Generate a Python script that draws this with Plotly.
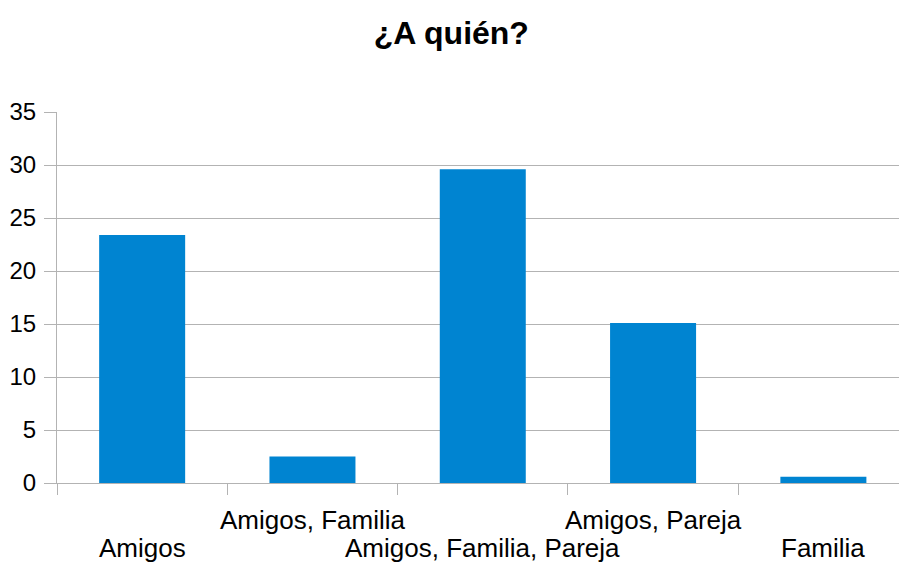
import plotly.graph_objects as go

# Survey answers: who the respondents share with
categories = ["Amigos", "Amigos, Familia", "Amigos, Familia, Pareja", "Amigos, Pareja", "Familia"]
values = [23.4, 2.5, 29.6, 15.1, 0.6]
y_ticks = [0, 5, 10, 15, 20, 25, 30, 35]

BAR_COLOR = "#0084d1"
GRID_COLOR = "#b3b3b3"
FONT = "Liberation Sans, Arial, sans-serif"

fig = go.Figure(
    go.Bar(
        x=categories,
        y=values,
        marker=dict(color=BAR_COLOR, line=dict(width=0)),
        width=0.505,
        hoverinfo="x+y",
    )
)

# Category labels alternate between two rows under the axis
annotations = []
for i, cat in enumerate(categories):
    upper = i % 2 == 1
    annotations.append(
        dict(
            x=cat,
            xref="x",
            y=-0.0997 if upper else -0.2205,
            yref="paper",
            yanchor="middle" if upper else "bottom",
            xanchor="center",
            text=cat,
            showarrow=False,
            font=dict(family=FONT, size=26, color="#000000"),
        )
    )

fig.update_layout(
    width=899,
    height=566,
    margin=dict(l=57, r=0, t=112, b=83),
    paper_bgcolor="white",
    plot_bgcolor="white",
    showlegend=False,
    title=dict(
        text="<b>¿A quién?</b>",
        x=0.502,
        xref="container",
        xanchor="center",
        y=1 - 33 / 566,
        yref="container",
        yanchor="middle",
        font=dict(family=FONT, size=32, color="#000000"),
    ),
    annotations=annotations,
    xaxis=dict(
        type="category",
        range=[-0.5, 4.444],
        showticklabels=False,
        tickson="boundaries",
        ticks="outside",
        ticklen=11,
        tickcolor=GRID_COLOR,
        tickwidth=1,
        showgrid=False,
        showline=True,
        linecolor=GRID_COLOR,
        linewidth=1,
        zeroline=False,
    ),
    yaxis=dict(
        range=[0, 35],
        tickvals=y_ticks,
        ticktext=[str(v) for v in y_ticks],
        ticks="outside",
        ticklen=12,
        tickcolor=GRID_COLOR,
        tickwidth=1,
        ticklabelstandoff=3,
        showgrid=True,
        gridcolor=GRID_COLOR,
        gridwidth=1,
        showline=True,
        linecolor=GRID_COLOR,
        linewidth=1,
        zeroline=False,
        tickfont=dict(family=FONT, size=24, color="#000000"),
    ),
)

fig.write_html("out.html")
